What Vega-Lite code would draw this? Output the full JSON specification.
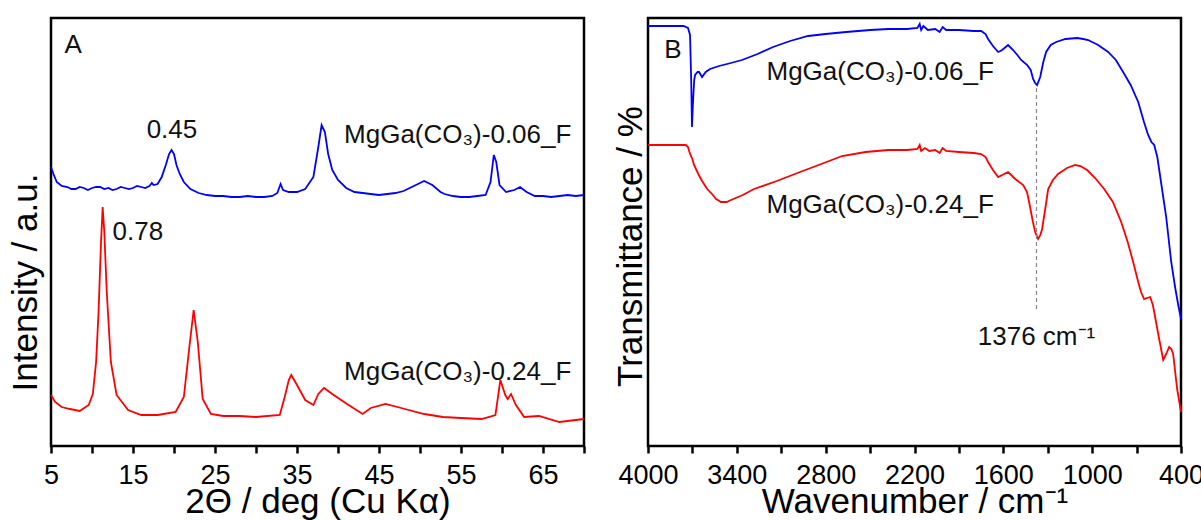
{
  "$schema": "https://vega.github.io/schema/vega-lite/v6.json",
  "padding": {"left": 6, "top": 16, "right": 0, "bottom": 0},
  "spacing": 22,
  "config": {
    "view": {"stroke": "black", "strokeWidth": 2.5},
    "font": "Liberation Sans",
    "axis": {"grid": false, "domain": false, "labelColor": "black", "titleColor": "black", "titleFontWeight": "normal", "labelFont": "Liberation Sans", "titleFont": "Liberation Sans"}
  },
  "datasets": {
    "xrd": [
      {"theta": 5.0, "I": 282, "s": "0.06"}, {"theta": 5.3, "I": 275, "s": "0.06"}, {"theta": 5.7, "I": 267, "s": "0.06"}, {"theta": 6.3, "I": 263, "s": "0.06"}, {"theta": 7, "I": 262, "s": "0.06"}, {"theta": 7.5, "I": 260, "s": "0.06"}, {"theta": 8, "I": 260, "s": "0.06"}, {"theta": 8.5, "I": 262, "s": "0.06"}, {"theta": 9, "I": 261, "s": "0.06"}, {"theta": 9.5, "I": 259, "s": "0.06"}, {"theta": 10, "I": 261, "s": "0.06"}, {"theta": 10.5, "I": 262, "s": "0.06"}, {"theta": 11, "I": 262, "s": "0.06"}, {"theta": 11.5, "I": 260, "s": "0.06"}, {"theta": 12, "I": 261, "s": "0.06"}, {"theta": 12.5, "I": 259, "s": "0.06"}, {"theta": 13, "I": 260, "s": "0.06"}, {"theta": 13.5, "I": 262, "s": "0.06"}, {"theta": 14, "I": 261, "s": "0.06"}, {"theta": 14.5, "I": 260, "s": "0.06"}, {"theta": 15, "I": 261, "s": "0.06"}, {"theta": 15.5, "I": 263, "s": "0.06"}, {"theta": 16, "I": 262, "s": "0.06"}, {"theta": 16.5, "I": 261, "s": "0.06"}, {"theta": 17, "I": 263, "s": "0.06"}, {"theta": 17.3, "I": 266, "s": "0.06"}, {"theta": 17.5, "I": 264, "s": "0.06"}, {"theta": 18, "I": 265, "s": "0.06"}, {"theta": 18.5, "I": 272, "s": "0.06"}, {"theta": 19, "I": 284, "s": "0.06"}, {"theta": 19.4, "I": 295, "s": "0.06"}, {"theta": 19.7, "I": 299, "s": "0.06"}, {"theta": 20.0, "I": 295, "s": "0.06"}, {"theta": 20.3, "I": 284, "s": "0.06"}, {"theta": 20.7, "I": 275, "s": "0.06"}, {"theta": 21.2, "I": 267, "s": "0.06"}, {"theta": 22, "I": 260, "s": "0.06"}, {"theta": 23, "I": 256, "s": "0.06"}, {"theta": 24, "I": 254, "s": "0.06"}, {"theta": 25, "I": 253, "s": "0.06"}, {"theta": 26, "I": 253, "s": "0.06"}, {"theta": 27, "I": 252, "s": "0.06"}, {"theta": 28, "I": 252, "s": "0.06"}, {"theta": 29, "I": 253, "s": "0.06"}, {"theta": 30, "I": 252, "s": "0.06"}, {"theta": 31, "I": 252, "s": "0.06"}, {"theta": 32, "I": 253, "s": "0.06"}, {"theta": 32.6, "I": 256, "s": "0.06"}, {"theta": 33.0, "I": 265, "s": "0.06"}, {"theta": 33.3, "I": 259, "s": "0.06"}, {"theta": 34, "I": 257, "s": "0.06"}, {"theta": 35, "I": 257, "s": "0.06"}, {"theta": 36, "I": 260, "s": "0.06"}, {"theta": 37, "I": 272, "s": "0.06"}, {"theta": 37.6, "I": 302, "s": "0.06"}, {"theta": 38.0, "I": 324, "s": "0.06"}, {"theta": 38.4, "I": 317, "s": "0.06"}, {"theta": 38.8, "I": 295, "s": "0.06"}, {"theta": 39.3, "I": 279, "s": "0.06"}, {"theta": 40, "I": 269, "s": "0.06"}, {"theta": 41, "I": 261, "s": "0.06"}, {"theta": 42, "I": 257, "s": "0.06"}, {"theta": 43, "I": 256, "s": "0.06"}, {"theta": 44, "I": 255, "s": "0.06"}, {"theta": 45, "I": 254, "s": "0.06"}, {"theta": 46, "I": 255, "s": "0.06"}, {"theta": 47, "I": 256, "s": "0.06"}, {"theta": 48, "I": 258, "s": "0.06"}, {"theta": 49, "I": 262, "s": "0.06"}, {"theta": 49.5, "I": 264, "s": "0.06"}, {"theta": 50.5, "I": 268, "s": "0.06"}, {"theta": 51.5, "I": 264, "s": "0.06"}, {"theta": 52.5, "I": 257, "s": "0.06"}, {"theta": 53, "I": 255, "s": "0.06"}, {"theta": 54, "I": 253, "s": "0.06"}, {"theta": 55, "I": 252, "s": "0.06"}, {"theta": 56, "I": 252, "s": "0.06"}, {"theta": 57, "I": 253, "s": "0.06"}, {"theta": 58, "I": 254, "s": "0.06"}, {"theta": 58.6, "I": 267, "s": "0.06"}, {"theta": 59.0, "I": 294, "s": "0.06"}, {"theta": 59.3, "I": 287, "s": "0.06"}, {"theta": 59.7, "I": 264, "s": "0.06"}, {"theta": 60.5, "I": 257, "s": "0.06"}, {"theta": 61.5, "I": 259, "s": "0.06"}, {"theta": 62.2, "I": 262, "s": "0.06"}, {"theta": 63, "I": 257, "s": "0.06"}, {"theta": 64, "I": 253, "s": "0.06"}, {"theta": 65, "I": 253, "s": "0.06"}, {"theta": 66, "I": 252, "s": "0.06"}, {"theta": 67, "I": 253, "s": "0.06"}, {"theta": 68, "I": 254, "s": "0.06"}, {"theta": 69, "I": 253, "s": "0.06"}, {"theta": 70, "I": 254, "s": "0.06"},
      {"theta": 5.0, "I": 54, "s": "0.24"}, {"theta": 5.5, "I": 47, "s": "0.24"}, {"theta": 6.3, "I": 42, "s": "0.24"}, {"theta": 7.3, "I": 40, "s": "0.24"}, {"theta": 8.5, "I": 38, "s": "0.24"}, {"theta": 9.6, "I": 44, "s": "0.24"}, {"theta": 10.1, "I": 55, "s": "0.24"}, {"theta": 10.5, "I": 87, "s": "0.24"}, {"theta": 10.8, "I": 137, "s": "0.24"}, {"theta": 11.1, "I": 207, "s": "0.24"}, {"theta": 11.3, "I": 242, "s": "0.24"}, {"theta": 11.5, "I": 217, "s": "0.24"}, {"theta": 11.8, "I": 157, "s": "0.24"}, {"theta": 12.3, "I": 87, "s": "0.24"}, {"theta": 13.0, "I": 54, "s": "0.24"}, {"theta": 14.4, "I": 39, "s": "0.24"}, {"theta": 16, "I": 34, "s": "0.24"}, {"theta": 18, "I": 34, "s": "0.24"}, {"theta": 20.2, "I": 37, "s": "0.24"}, {"theta": 21.2, "I": 52, "s": "0.24"}, {"theta": 21.9, "I": 104, "s": "0.24"}, {"theta": 22.4, "I": 139, "s": "0.24"}, {"theta": 22.9, "I": 107, "s": "0.24"}, {"theta": 23.5, "I": 50, "s": "0.24"}, {"theta": 24.5, "I": 35, "s": "0.24"}, {"theta": 26, "I": 33, "s": "0.24"}, {"theta": 28, "I": 33, "s": "0.24"}, {"theta": 30, "I": 32, "s": "0.24"}, {"theta": 32.9, "I": 34, "s": "0.24"}, {"theta": 33.5, "I": 52, "s": "0.24"}, {"theta": 34.0, "I": 69, "s": "0.24"}, {"theta": 34.3, "I": 74, "s": "0.24"}, {"theta": 35, "I": 64, "s": "0.24"}, {"theta": 36, "I": 49, "s": "0.24"}, {"theta": 37, "I": 44, "s": "0.24"}, {"theta": 37.6, "I": 55, "s": "0.24"}, {"theta": 38.3, "I": 61, "s": "0.24"}, {"theta": 39.3, "I": 55, "s": "0.24"}, {"theta": 41.1, "I": 45, "s": "0.24"}, {"theta": 43, "I": 35, "s": "0.24"}, {"theta": 44, "I": 41, "s": "0.24"}, {"theta": 45.8, "I": 45, "s": "0.24"}, {"theta": 47.7, "I": 41, "s": "0.24"}, {"theta": 50.5, "I": 35, "s": "0.24"}, {"theta": 52.8, "I": 32, "s": "0.24"}, {"theta": 55, "I": 31, "s": "0.24"}, {"theta": 57.5, "I": 30, "s": "0.24"}, {"theta": 59.2, "I": 34, "s": "0.24"}, {"theta": 59.8, "I": 69, "s": "0.24"}, {"theta": 60.4, "I": 54, "s": "0.24"}, {"theta": 60.7, "I": 50, "s": "0.24"}, {"theta": 61.1, "I": 55, "s": "0.24"}, {"theta": 61.7, "I": 44, "s": "0.24"}, {"theta": 62.7, "I": 32, "s": "0.24"}, {"theta": 64.5, "I": 33, "s": "0.24"}, {"theta": 67, "I": 27, "s": "0.24"}, {"theta": 70, "I": 30, "s": "0.24"}
    ],
    "xrdLabels": [
      {"theta": 7.7, "I": 404, "label": "A"},
      {"theta": 19.75, "I": 319, "label": "0.45"},
      {"theta": 15.6, "I": 217, "label": "0.78"},
      {"theta": 54.6, "I": 314, "label": "MgGa(CO₃)-0.06_F"},
      {"theta": 54.6, "I": 77, "label": "MgGa(CO₃)-0.24_F"}
    ],
    "ftir": [
      {"wn": 4000, "T": 420, "s": "0.06"}, {"wn": 3850, "T": 420, "s": "0.06"}, {"wn": 3760, "T": 420, "s": "0.06"}, {"wn": 3730, "T": 418, "s": "0.06"}, {"wn": 3716, "T": 411, "s": "0.06"}, {"wn": 3708, "T": 364, "s": "0.06"}, {"wn": 3703, "T": 319, "s": "0.06"}, {"wn": 3696, "T": 344, "s": "0.06"}, {"wn": 3688, "T": 366, "s": "0.06"}, {"wn": 3682, "T": 371, "s": "0.06"}, {"wn": 3665, "T": 374, "s": "0.06"}, {"wn": 3655, "T": 374, "s": "0.06"}, {"wn": 3635, "T": 369, "s": "0.06"}, {"wn": 3610, "T": 374, "s": "0.06"}, {"wn": 3581, "T": 377, "s": "0.06"}, {"wn": 3520, "T": 380, "s": "0.06"}, {"wn": 3466, "T": 382, "s": "0.06"}, {"wn": 3365, "T": 386, "s": "0.06"}, {"wn": 3260, "T": 392, "s": "0.06"}, {"wn": 3155, "T": 399, "s": "0.06"}, {"wn": 3040, "T": 405, "s": "0.06"}, {"wn": 2919, "T": 410, "s": "0.06"}, {"wn": 2800, "T": 412, "s": "0.06"}, {"wn": 2662, "T": 414, "s": "0.06"}, {"wn": 2500, "T": 416, "s": "0.06"}, {"wn": 2378, "T": 417, "s": "0.06"}, {"wn": 2250, "T": 417, "s": "0.06"}, {"wn": 2180, "T": 418, "s": "0.06"}, {"wn": 2165, "T": 422, "s": "0.06"}, {"wn": 2155, "T": 416, "s": "0.06"}, {"wn": 2140, "T": 420, "s": "0.06"}, {"wn": 2110, "T": 416, "s": "0.06"}, {"wn": 2060, "T": 417, "s": "0.06"}, {"wn": 2030, "T": 414, "s": "0.06"}, {"wn": 2010, "T": 419, "s": "0.06"}, {"wn": 1986, "T": 416, "s": "0.06"}, {"wn": 1900, "T": 416, "s": "0.06"}, {"wn": 1800, "T": 415, "s": "0.06"}, {"wn": 1750, "T": 415, "s": "0.06"}, {"wn": 1720, "T": 412, "s": "0.06"}, {"wn": 1703, "T": 407, "s": "0.06"}, {"wn": 1670, "T": 400, "s": "0.06"}, {"wn": 1635, "T": 394, "s": "0.06"}, {"wn": 1620, "T": 395, "s": "0.06"}, {"wn": 1608, "T": 396, "s": "0.06"}, {"wn": 1568, "T": 401, "s": "0.06"}, {"wn": 1534, "T": 396, "s": "0.06"}, {"wn": 1500, "T": 390, "s": "0.06"}, {"wn": 1480, "T": 386, "s": "0.06"}, {"wn": 1439, "T": 381, "s": "0.06"}, {"wn": 1415, "T": 376, "s": "0.06"}, {"wn": 1399, "T": 367, "s": "0.06"}, {"wn": 1385, "T": 363, "s": "0.06"}, {"wn": 1372, "T": 361, "s": "0.06"}, {"wn": 1351, "T": 369, "s": "0.06"}, {"wn": 1330, "T": 384, "s": "0.06"}, {"wn": 1311, "T": 394, "s": "0.06"}, {"wn": 1280, "T": 401, "s": "0.06"}, {"wn": 1243, "T": 404, "s": "0.06"}, {"wn": 1180, "T": 407, "s": "0.06"}, {"wn": 1101, "T": 408, "s": "0.06"}, {"wn": 1060, "T": 407, "s": "0.06"}, {"wn": 1027, "T": 406, "s": "0.06"}, {"wn": 960, "T": 401, "s": "0.06"}, {"wn": 892, "T": 394, "s": "0.06"}, {"wn": 840, "T": 386, "s": "0.06"}, {"wn": 791, "T": 374, "s": "0.06"}, {"wn": 740, "T": 361, "s": "0.06"}, {"wn": 689, "T": 344, "s": "0.06"}, {"wn": 650, "T": 324, "s": "0.06"}, {"wn": 622, "T": 311, "s": "0.06"}, {"wn": 600, "T": 304, "s": "0.06"}, {"wn": 581, "T": 301, "s": "0.06"}, {"wn": 560, "T": 289, "s": "0.06"}, {"wn": 530, "T": 259, "s": "0.06"}, {"wn": 500, "T": 229, "s": "0.06"}, {"wn": 466, "T": 184, "s": "0.06"}, {"wn": 440, "T": 159, "s": "0.06"}, {"wn": 420, "T": 142, "s": "0.06"}, {"wn": 400, "T": 127, "s": "0.06"},
      {"wn": 4000, "T": 301, "s": "0.24"}, {"wn": 3850, "T": 301, "s": "0.24"}, {"wn": 3745, "T": 301, "s": "0.24"}, {"wn": 3730, "T": 299, "s": "0.24"}, {"wn": 3720, "T": 294, "s": "0.24"}, {"wn": 3710, "T": 290, "s": "0.24"}, {"wn": 3700, "T": 287, "s": "0.24"}, {"wn": 3689, "T": 281, "s": "0.24"}, {"wn": 3660, "T": 272, "s": "0.24"}, {"wn": 3635, "T": 265, "s": "0.24"}, {"wn": 3600, "T": 257, "s": "0.24"}, {"wn": 3568, "T": 252, "s": "0.24"}, {"wn": 3540, "T": 247, "s": "0.24"}, {"wn": 3507, "T": 244, "s": "0.24"}, {"wn": 3470, "T": 244, "s": "0.24"}, {"wn": 3439, "T": 246, "s": "0.24"}, {"wn": 3360, "T": 251, "s": "0.24"}, {"wn": 3284, "T": 257, "s": "0.24"}, {"wn": 3130, "T": 265, "s": "0.24"}, {"wn": 2973, "T": 274, "s": "0.24"}, {"wn": 2830, "T": 282, "s": "0.24"}, {"wn": 2689, "T": 290, "s": "0.24"}, {"wn": 2530, "T": 294, "s": "0.24"}, {"wn": 2378, "T": 296, "s": "0.24"}, {"wn": 2250, "T": 296, "s": "0.24"}, {"wn": 2180, "T": 297, "s": "0.24"}, {"wn": 2165, "T": 301, "s": "0.24"}, {"wn": 2155, "T": 295, "s": "0.24"}, {"wn": 2130, "T": 298, "s": "0.24"}, {"wn": 2100, "T": 295, "s": "0.24"}, {"wn": 2060, "T": 296, "s": "0.24"}, {"wn": 2030, "T": 293, "s": "0.24"}, {"wn": 2010, "T": 298, "s": "0.24"}, {"wn": 1986, "T": 295, "s": "0.24"}, {"wn": 1900, "T": 294, "s": "0.24"}, {"wn": 1800, "T": 293, "s": "0.24"}, {"wn": 1750, "T": 292, "s": "0.24"}, {"wn": 1720, "T": 289, "s": "0.24"}, {"wn": 1703, "T": 284, "s": "0.24"}, {"wn": 1670, "T": 276, "s": "0.24"}, {"wn": 1635, "T": 269, "s": "0.24"}, {"wn": 1608, "T": 271, "s": "0.24"}, {"wn": 1568, "T": 274, "s": "0.24"}, {"wn": 1540, "T": 270, "s": "0.24"}, {"wn": 1520, "T": 267, "s": "0.24"}, {"wn": 1466, "T": 261, "s": "0.24"}, {"wn": 1440, "T": 254, "s": "0.24"}, {"wn": 1426, "T": 244, "s": "0.24"}, {"wn": 1400, "T": 224, "s": "0.24"}, {"wn": 1385, "T": 214, "s": "0.24"}, {"wn": 1365, "T": 207, "s": "0.24"}, {"wn": 1350, "T": 211, "s": "0.24"}, {"wn": 1338, "T": 217, "s": "0.24"}, {"wn": 1315, "T": 239, "s": "0.24"}, {"wn": 1297, "T": 257, "s": "0.24"}, {"wn": 1265, "T": 266, "s": "0.24"}, {"wn": 1230, "T": 272, "s": "0.24"}, {"wn": 1170, "T": 278, "s": "0.24"}, {"wn": 1115, "T": 281, "s": "0.24"}, {"wn": 1080, "T": 280, "s": "0.24"}, {"wn": 1034, "T": 276, "s": "0.24"}, {"wn": 980, "T": 268, "s": "0.24"}, {"wn": 919, "T": 257, "s": "0.24"}, {"wn": 860, "T": 244, "s": "0.24"}, {"wn": 804, "T": 224, "s": "0.24"}, {"wn": 760, "T": 204, "s": "0.24"}, {"wn": 723, "T": 184, "s": "0.24"}, {"wn": 689, "T": 164, "s": "0.24"}, {"wn": 670, "T": 154, "s": "0.24"}, {"wn": 649, "T": 147, "s": "0.24"}, {"wn": 630, "T": 148, "s": "0.24"}, {"wn": 608, "T": 149, "s": "0.24"}, {"wn": 590, "T": 141, "s": "0.24"}, {"wn": 581, "T": 134, "s": "0.24"}, {"wn": 550, "T": 109, "s": "0.24"}, {"wn": 520, "T": 86, "s": "0.24"}, {"wn": 500, "T": 92, "s": "0.24"}, {"wn": 480, "T": 99, "s": "0.24"}, {"wn": 465, "T": 97, "s": "0.24"}, {"wn": 453, "T": 92, "s": "0.24"}, {"wn": 426, "T": 57, "s": "0.24"}, {"wn": 400, "T": 34, "s": "0.24"}
    ],
    "ftirLabels": [
      {"wn": 3831, "T": 396, "label": "B"},
      {"wn": 2432, "T": 374, "label": "MgGa(CO₃)-0.06_F"},
      {"wn": 2432, "T": 241, "label": "MgGa(CO₃)-0.24_F"},
      {"wn": 1376, "T": 109, "label": "1376 cm⁻¹"}
    ],
    "marker": [{"wn": 1376, "top": 358, "bottom": 134}]
  },
  "hconcat": [
    {
      "width": 533,
      "height": 428,
      "layer": [
        {
          "data": {"name": "xrd"},
          "mark": {"type": "line", "strokeWidth": 1.8},
          "encoding": {
            "x": {"field": "theta", "type": "quantitative", "scale": {"domain": [5, 70], "nice": false, "zero": false},
              "axis": {"values": [5, 10, 15, 20, 25, 30, 35, 40, 45, 50, 55, 60, 65, 70], "labelExpr": "(datum.value - 5) % 10 == 0 ? datum.label : ''", "labelFlush": false, "labelOverlap": false, "labelFontSize": 27, "labelPadding": 9, "tickSize": 7, "tickWidth": 2.5, "tickColor": "black", "title": "2Θ / deg (Cu Kα)", "titleFontSize": 35, "titlePadding": -4}},
            "y": {"field": "I", "type": "quantitative", "scale": {"domain": [3, 431], "nice": false, "zero": false},
              "axis": {"labels": false, "ticks": false, "title": "Intensity / a.u.", "titleFontSize": 35, "titlePadding": 8, "titleY": 264}},
            "color": {"field": "s", "type": "nominal", "scale": {"domain": ["0.06", "0.24"], "range": ["#0000ff", "#ff0000"]}, "legend": null}
          }
        },
        {
          "data": {"name": "xrdLabels"},
          "mark": {"type": "text", "fontSize": 26, "font": "Liberation Sans", "color": "#111111", "align": "center", "baseline": "middle"},
          "encoding": {
            "x": {"field": "theta", "type": "quantitative"},
            "y": {"field": "I", "type": "quantitative"},
            "text": {"field": "label", "type": "nominal"}
          }
        }
      ]
    },
    {
      "width": 533,
      "height": 428,
      "layer": [
        {
          "data": {"name": "ftir"},
          "mark": {"type": "line", "strokeWidth": 1.8},
          "encoding": {
            "x": {"field": "wn", "type": "quantitative", "sort": null, "scale": {"domain": [400, 4000], "reverse": true, "nice": false, "zero": false},
              "axis": {"values": [4000, 3700, 3400, 3100, 2800, 2500, 2200, 1900, 1600, 1300, 1000, 700, 400], "format": "d", "labelExpr": "(4000 - datum.value) % 600 == 0 ? datum.label : ''", "labelFlush": false, "labelOverlap": false, "labelFontSize": 27, "labelPadding": 9, "tickSize": 7, "tickWidth": 2.5, "tickColor": "black", "title": "Wavenumber / cm⁻¹", "titleFontSize": 35, "titlePadding": -4}},
            "y": {"field": "T", "type": "quantitative", "scale": {"domain": [0, 428], "nice": false, "zero": false},
              "axis": {"labels": false, "ticks": false, "title": "Transmittance / %", "titleFontSize": 35, "titlePadding": 0, "titleY": 228}},
            "color": {"field": "s", "type": "nominal", "scale": {"domain": ["0.06", "0.24"], "range": ["#0000ff", "#ff0000"]}, "legend": null}
          }
        },
        {
          "data": {"name": "marker"},
          "mark": {"type": "rule", "color": "#888888", "strokeWidth": 1.2, "strokeDash": [4, 3]},
          "encoding": {
            "x": {"field": "wn", "type": "quantitative"},
            "y": {"field": "top", "type": "quantitative"},
            "y2": {"field": "bottom"}
          }
        },
        {
          "data": {"name": "ftirLabels"},
          "mark": {"type": "text", "fontSize": 26, "font": "Liberation Sans", "color": "#111111", "align": "center", "baseline": "middle"},
          "encoding": {
            "x": {"field": "wn", "type": "quantitative"},
            "y": {"field": "T", "type": "quantitative"},
            "text": {"field": "label", "type": "nominal"}
          }
        }
      ]
    }
  ]
}
